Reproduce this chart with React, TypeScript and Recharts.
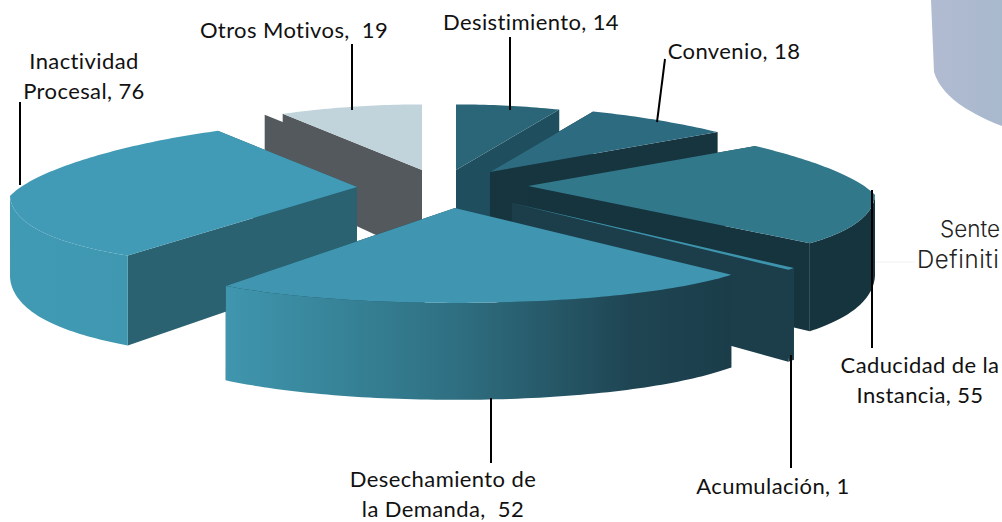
import { Pie, PieChart } from "recharts"

const names = [
  "Desistimiento",
  "Convenio",
  "Caducidad de la Instancia",
  "Acumulación",
  "Desechamiento de la Demanda",
  "Inactividad Procesal",
  "Otros Motivos",
]
const values = [14, 18, 55, 1, 52, 76, 19]

const data = names.map((name, i) => ({ name, value: values[i] }))

// painter's order, far slices first
const paintOrder = [6, 0, 1, 2, 3, 5, 4]

const explodeX = [16, 50, 88, 72, 15, -83, -18]
const explodeY = [-20, -18, -4, 13, 18, -3, -20]
// how far the near rim falls below the tip, per slice
const nearTilt = [1, 1, 0.88, 1, 1, 0.88, 1]
const topColors = ["#2b6678", "#2d6b80", "#32788b", "#3d95ad", "#4096b0", "#429bb6", "#c2d4db"]
const faceColors = ["#1f4f5e", "#17353f", "#16343e", "#1c3e4b", "#1c3e4b", "#2a6272", "#53595c"]
const wallStops = [
  [["0", "#1f4f5e"], ["1", "#1f4f5e"]],
  [["0", "#17353f"], ["1", "#17353f"]],
  [["0", "#16343e"], ["1", "#16343e"]],
  [["0", "#1c3e4b"], ["1", "#1c3e4b"]],
  [["0", "#3f96ae"], ["0.45", "#2f7082"], ["0.8", "#1f4553"], ["1", "#1b3d4a"]],
  [["0", "#419ab4"], ["1", "#3f98b0"]],
  [["0", "#53595c"], ["1", "#53595c"]],
]
// the grey slice has a second offset cut face behind it
const flangeX = [0, 0, 0, 0, 0, 0, -18]

const labelLines = [
  ["Desistimiento, 14"],
  ["Convenio, 18"],
  ["Caducidad de la", "Instancia, 55"],
  ["Acumulación, 1"],
  ["Desechamiento de", "la Demanda,  52"],
  ["Inactividad", "Procesal, 76"],
  ["Otros Motivos,  19"],
]
const labelX = [531, 734, 920, 773, 443, 84, 294]
const labelY = [30, 59, 373, 494, 487, 69, 38]
const leaders = [
  [510, 37, 510, 110],
  [665, 59, 657, 122],
  [872, 190, 872, 348],
  [791, 355, 791, 468],
  [491, 398, 491, 463],
  [20, 102, 20, 185],
  [352, 44, 352, 110],
]

const RAD = Math.PI / 180

// disc seen in perspective: near side wider and deeper than far side
function rimPoint(theta: number, r: number, tipX: number, tipY: number, tilt: number) {
  const u = Math.sin(theta * RAD)
  const v = Math.cos(theta * RAD)
  const spread = v < 0 ? 1 + 0.246 * v * v : 1 - 0.2 * v
  const fall = v < 0 ? tilt * (0.026 - 0.21 * v + 0.0375 * v * v) : 0.026 - 0.215 * v
  return { x: tipX + u * r * spread, y: tipY + r * fall, near: v <= 0 }
}

type P = { x: number; y: number }

const depth = (y: number) => 80 + 0.15 * (y - 190)
const pts = (list: P[]) => list.map((p) => `${p.x},${p.y}`).join(" ")
const drop = (p: P) => ({ x: p.x, y: p.y + depth(p.y) })

function Slice3D(props: any) {
  const i = names.indexOf(props.name)
  const tip = { x: props.cx + explodeX[i], y: props.cy + explodeY[i] }
  const from = 90 - props.startAngle
  const to = 90 - props.endAngle
  const arc = []
  const steps = Math.max(2, Math.ceil(to - from))
  for (let s = 0; s <= steps; s++) {
    arc.push(rimPoint(from + ((to - from) * s) / steps, props.outerRadius, tip.x, tip.y, nearTilt[i]))
  }
  const first = arc[0]
  const last = arc[arc.length - 1]
  const band = arc.filter((p) => p.near)
  const flange = flangeX[i]
  const shift = (p: P) => ({ x: p.x + flange, y: p.y + 1 })
  const startFace = [tip, first, drop(first), drop(tip)]
  return (
    <g>
      <defs>
        <linearGradient id={`wall-${i}`} x1="0" y1="0" x2="1" y2="0">
          {wallStops[i].map(([o, c]) => (
            <stop key={o} offset={o} stopColor={c} />
          ))}
        </linearGradient>
      </defs>
      {flange !== 0 && <polygon points={pts(startFace.map(shift))} fill={faceColors[i]} />}
      <polygon points={pts(startFace)} fill={faceColors[i]} />
      <polygon points={pts([tip, last, drop(last), drop(tip)])} fill={faceColors[i]} />
      {band.length > 1 && (
        <polygon points={pts([...band, ...band.map(drop).reverse()])} fill={`url(#wall-${i})`} />
      )}
      <polygon points={pts([tip, ...arc])} fill={topColors[i]} />
    </g>
  )
}

function SliceLabel(props: any) {
  const i = props.index
  const [x1, y1, x2, y2] = leaders[i]
  return (
    <g>
      <line x1={x1} y1={y1} x2={x2} y2={y2} stroke="#000" strokeWidth={2} />
      <text
        x={labelX[i]}
        y={labelY[i]}
        textAnchor="middle"
        fontFamily="Lato"
        fontSize={22}
        letterSpacing={0.4}
        fill="#111"
        style={{ whiteSpace: "pre" }}
      >
        {labelLines[i].map((line, n) => (
          <tspan key={n} x={labelX[i]} dy={n === 0 ? 0 : 30}>
            {line}
          </tspan>
        ))}
      </text>
    </g>
  )
}

export default function App() {
  return (
    <div style={{ position: "fixed", left: 0, top: 0, width: 1002, height: 522, overflow: "hidden", background: "#fff" }}>
      <PieChart width={1002} height={522} margin={{ top: 0, right: 0, bottom: 0, left: 0 }}>
        <defs>
          <linearGradient id="blob" x1="0" y1="0" x2="1" y2="0">
            <stop offset="0" stopColor="#b1bbd2" />
            <stop offset="1" stopColor="#a8b8cd" />
          </linearGradient>
        </defs>
        <path d="M931 0 L934 72 Q940 92 965 108 Q985 120 1002 126 L1002 0 Z" fill="url(#blob)" />
        <line x1={875} y1={262} x2={915} y2={262} stroke="#f1f1f1" />
        <text x={940} y={237} fontFamily="Inter" fontWeight={300} fontSize={22.5} fill="#222">Sente</text>
        <text x={917} y={268} fontFamily="Inter" fontWeight={300} fontSize={24} letterSpacing={0.6} fill="#222">Definiti</text>
        {paintOrder.map((layer, n) => (
          <Pie
            key={layer}
            data={data}
            dataKey="value"
            nameKey="name"
            cx={440}
            cy={190}
            outerRadius={347}
            startAngle={90}
            endAngle={-270}
            stroke="none"
            isAnimationActive={false}
            shape={(p: any) => (names.indexOf(p.name) === layer ? <Slice3D {...p} /> : <g />)}
            label={n === paintOrder.length - 1 ? SliceLabel : false}
            labelLine={false}
          />
        ))}
      </PieChart>
    </div>
  )
}
